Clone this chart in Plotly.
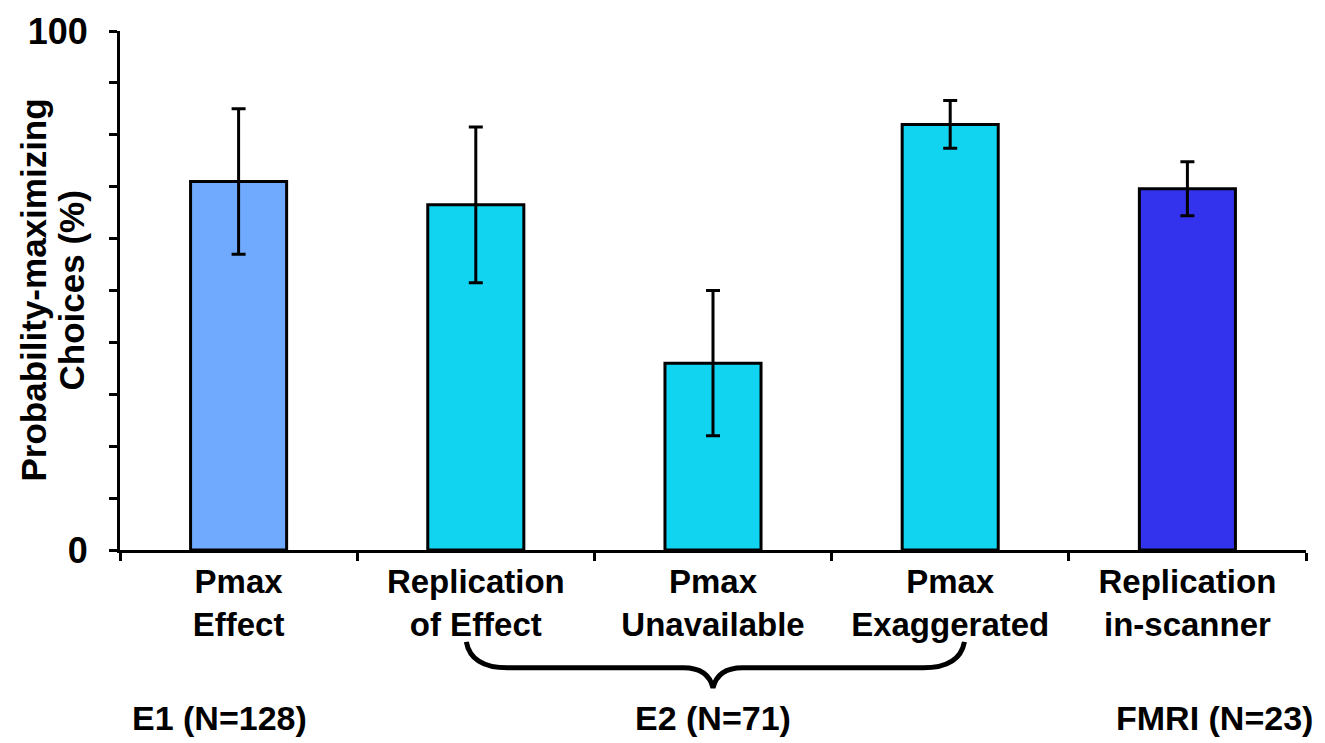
import plotly.graph_objects as go

# Conditions, mean probability-maximizing choices (%) and error bar half-lengths
categories = [
    "Pmax<br>Effect",
    "Replication<br>of Effect",
    "Pmax<br>Unavailable",
    "Pmax<br>Exaggerated",
    "Replication<br>in-scanner",
]
values = [71.0, 66.5, 36.0, 82.0, 69.6]
errors = [14.0, 15.0, 14.0, 4.6, 5.2]
bar_colors = ["#6FAAFF", "#10D4F0", "#10D4F0", "#10D4F0", "#3333EE"]

y_tickvals = list(range(0, 101, 10))
y_ticktext = ["0", "", "", "", "", "", "", "", "", "", "100"]
y_title_lines = ["Probability-maximizing", "Choices (%)"]

group_labels = ["E1 (N=128)", "E2 (N=71)", "FMRI (N=23)"]
group_x = [0.084, 0.5, 0.923]

FONT = "Liberation Sans, Arial, sans-serif"

fig = go.Figure()
fig.add_trace(go.Bar(
    x=categories,
    y=values,
    width=0.405,
    marker=dict(color=bar_colors, line=dict(color="black", width=3)),
    error_y=dict(type="data", array=errors, visible=True,
                 color="black", thickness=3, width=7),
))


def cat_to_paper(c, n=len(categories)):
    return (c + 0.5) / n


# curly brace spanning the three E2 conditions
y_end, y_mid, y_tip = -0.177, -0.227, -0.266
xl, xr, xc = cat_to_paper(0.96), cat_to_paper(3.06), cat_to_paper(2.0)
brace = (
    f"M {xl},{y_end} Q {xl + 0.004},{y_mid} {xl + 0.035},{y_mid} "
    f"L {xc - 0.025},{y_mid} Q {xc - 0.004},{y_mid} {xc},{y_tip} "
    f"Q {xc + 0.004},{y_mid} {xc + 0.025},{y_mid} "
    f"L {xr - 0.035},{y_mid} Q {xr - 0.004},{y_mid} {xr},{y_end}"
)
fig.add_shape(type="path", path=brace, xref="paper", yref="paper",
              line=dict(color="black", width=5))

annotations = [
    dict(text=f"<b>{t}</b>", x=gx, y=-0.324, xref="paper", yref="paper",
         showarrow=False, xanchor="center", yanchor="middle",
         font=dict(family=FONT, size=34, color="black"))
    for t, gx in zip(group_labels, group_x)
]
# two-line vertical axis title, one annotation per line
for line, px in zip(y_title_lines, [33, 71]):
    annotations.append(dict(
        text=f"<b>{line}</b>",
        x=(px - 120) / 1186, y=0.5, xref="paper", yref="paper", textangle=-90,
        showarrow=False, xanchor="center", yanchor="middle",
        font=dict(family=FONT, size=35, color="black"),
    ))

fig.update_layout(
    width=1325, height=743,
    margin=dict(l=120, r=19, t=31, b=193),
    paper_bgcolor="white", plot_bgcolor="white",
    showlegend=False,
    annotations=annotations,
    font=dict(family=FONT, color="black"),
    xaxis=dict(
        type="category", range=[-0.5, 4.5],
        showline=True, linewidth=3, linecolor="black",
        ticks="outside", tickson="boundaries", ticklen=8, tickwidth=3,
        tickcolor="black", showgrid=False,
        tickfont=dict(family=FONT, size=33, color="black", weight="bold"),
    ),
    yaxis=dict(
        range=[0, 100], tickvals=y_tickvals, ticktext=y_ticktext,
        showline=True, linewidth=3, linecolor="black",
        ticks="outside", ticklen=8, tickwidth=3, tickcolor="black",
        showgrid=False, zeroline=False, ticklabelstandoff=14,
        tickfont=dict(family=FONT, size=36, color="black", weight="bold"),
    ),
)

fig.write_html("out.html")
